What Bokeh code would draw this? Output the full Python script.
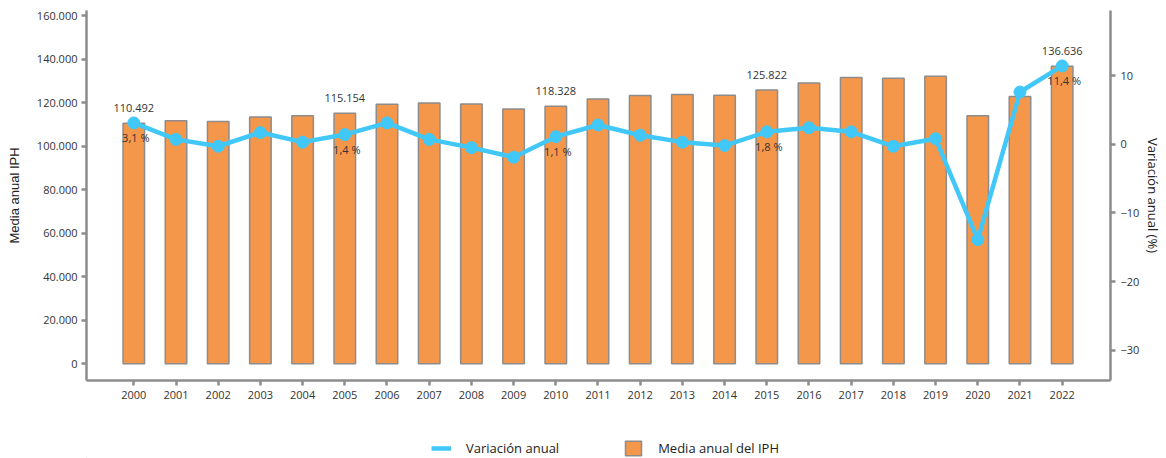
from bokeh.plotting import figure
from bokeh.layouts import column
from bokeh.models import (Range1d, LinearAxis, FixedTicker, CustomJSTickFormatter,
                          ColumnDataSource, Legend, LegendItem)
from bokeh.core.properties import value
from bokeh.embed import file_html
from bokeh.resources import INLINE

# ---- data ----
years = list(range(2000, 2023))
media_iph = [110492, 111600, 111300, 113400, 113900, 115154, 119200, 119800, 119300,
             117100, 118328, 121700, 123200, 123700, 123400, 125822, 129000, 131500,
             131200, 132100, 113900, 122800, 136636]
variacion = [3.1, 0.7, -0.3, 1.7, 0.3, 1.4, 3.1, 0.7, -0.5, -1.9, 1.1, 2.8, 1.3, 0.3,
             -0.2, 1.8, 2.4, 1.8, -0.3, 0.8, -13.9, 7.6, 11.4]
label_years = [2000, 2005, 2010, 2015, 2022]
left_ticks = [0, 20000, 40000, 60000, 80000, 100000, 120000, 140000, 160000]
right_ticks = [-30, -20, -10, 0, 10]
series_names = ["Variación anual", "Media anual del IPH"]

BAR = "#F5974A"
BAR_LINE = "#8C8C8C"
LINE = "#41C8F8"
AXIS = "#8C8C8C"
TXT = "#333333"
FONT = "Open Sans"

p = figure(width=1166, height=420, output_backend="svg", toolbar_location=None,
           x_range=Range1d(1998.879, 2023.145), y_range=Range1d(-7670, 162300),
           min_border_left=86, min_border_right=56, min_border_top=10, min_border_bottom=40)
p.outline_line_color = None
p.xgrid.visible = False
p.ygrid.visible = False
p.extra_y_ranges = {"var": Range1d(-34.41, 19.47)}

src = ColumnDataSource(dict(x=years, media=media_iph, var=variacion))
bars = p.vbar(x="x", top="media", bottom=0, width=0.51, source=src,
              fill_color=BAR, line_color=BAR_LINE, line_width=1.5)
ln = p.line(x="x", y="var", source=src, y_range_name="var", line_color=LINE, line_width=4.5)
pts = p.scatter(x="x", y="var", source=src, y_range_name="var", size=12,
                fill_color=LINE, line_color=LINE)

# labels
idx = [years.index(y) for y in label_years]
lab_src = ColumnDataSource(dict(
    x=label_years,
    media=[media_iph[i] for i in idx],
    var=[variacion[i] for i in idx],
    mtxt=[f"{media_iph[i]:,}".replace(",", ".") for i in idx],
    vtxt=[f"{variacion[i]:.1f} %".replace(".", ",") for i in idx],
))
p.text(x="x", y="media", text="mtxt", source=lab_src, text_align="center",
       text_baseline="middle", y_offset=-15, text_font=value(FONT),
       text_font_size="11px", text_color=TXT)
p.text(x="x", y="var", text="vtxt", source=lab_src, y_range_name="var",
       text_align="center", text_baseline="middle", y_offset=15, x_offset=2,
       text_font=value(FONT), text_font_size="11px", text_color=TXT)

def style_axis(ax):
    ax.axis_line_color = AXIS
    ax.axis_line_width = 2.5
    ax.major_tick_line_color = AXIS
    ax.major_tick_line_width = 2.5
    ax.major_tick_out = 5
    ax.major_tick_in = 0
    ax.minor_tick_line_color = None
    ax.major_label_text_font = FONT
    ax.major_label_text_font_size = "11px"
    ax.major_label_text_color = TXT
    ax.major_label_standoff = 4
    ax.axis_label_text_font_style = "normal"
    ax.axis_label_text_color = "#222222"

# left axis
la = p.yaxis[0]
style_axis(la)
la.ticker = FixedTicker(ticks=left_ticks)
la.formatter = CustomJSTickFormatter(
    code="return tick.toFixed(0).replace(/\\B(?=(\\d{3})+(?!\\d))/g, '.');")
la.axis_label = "Media anual IPH"
la.axis_label_text_font = "Liberation Sans"
la.axis_label_text_font_size = "13px"
la.axis_label_standoff = 12

# bottom axis
ba = p.xaxis[0]
style_axis(ba)
ba.ticker = FixedTicker(ticks=years)
ba.formatter = CustomJSTickFormatter(code="return tick.toFixed(0);")
ba.major_label_standoff = 5

# right axis
ra = LinearAxis(y_range_name="var", ticker=FixedTicker(ticks=right_ticks))
style_axis(ra)
ra.axis_label = "Variación anual (%)"
ra.axis_label_text_font = FONT
ra.axis_label_text_font_size = "13px"
ra.axis_label_standoff = 2
ra.major_label_standoff = 5
p.add_layout(ra, "right")

# ---- legend strip below the chart ----
lf = figure(width=1166, height=38, output_backend="svg", toolbar_location=None,
            x_axis_type=None, y_axis_type=None, x_range=Range1d(0, 1), y_range=Range1d(0, 1),
            min_border=0)
lf.outline_line_color = None
lf.xgrid.visible = False
lf.ygrid.visible = False
dummy = ColumnDataSource(dict(x=[-10, -9], y=[-10, -10]))
lg_line = lf.line(x="x", y="y", source=dummy, line_color=LINE, line_width=4.5)
lg_bar = lf.vbar(x="x", top="y", width=0.5, source=dummy,
                 fill_color=BAR, line_color=BAR_LINE, line_width=1.5)
legend = Legend(items=[LegendItem(label=series_names[0], renderers=[lg_line]),
                       LegendItem(label=series_names[1], renderers=[lg_bar])],
                orientation="horizontal", location=(345, 1),
                border_line_color=None, background_fill_alpha=0,
                padding=0, margin=0, spacing=64, label_standoff=15,
                glyph_width=20, glyph_height=18,
                label_text_font=FONT, label_text_font_size="13px",
                label_text_color="#222222")
lf.add_layout(legend, "center")

layout = column(p, lf, spacing=0)
open("out.html", "w").write(file_html(layout, INLINE))
